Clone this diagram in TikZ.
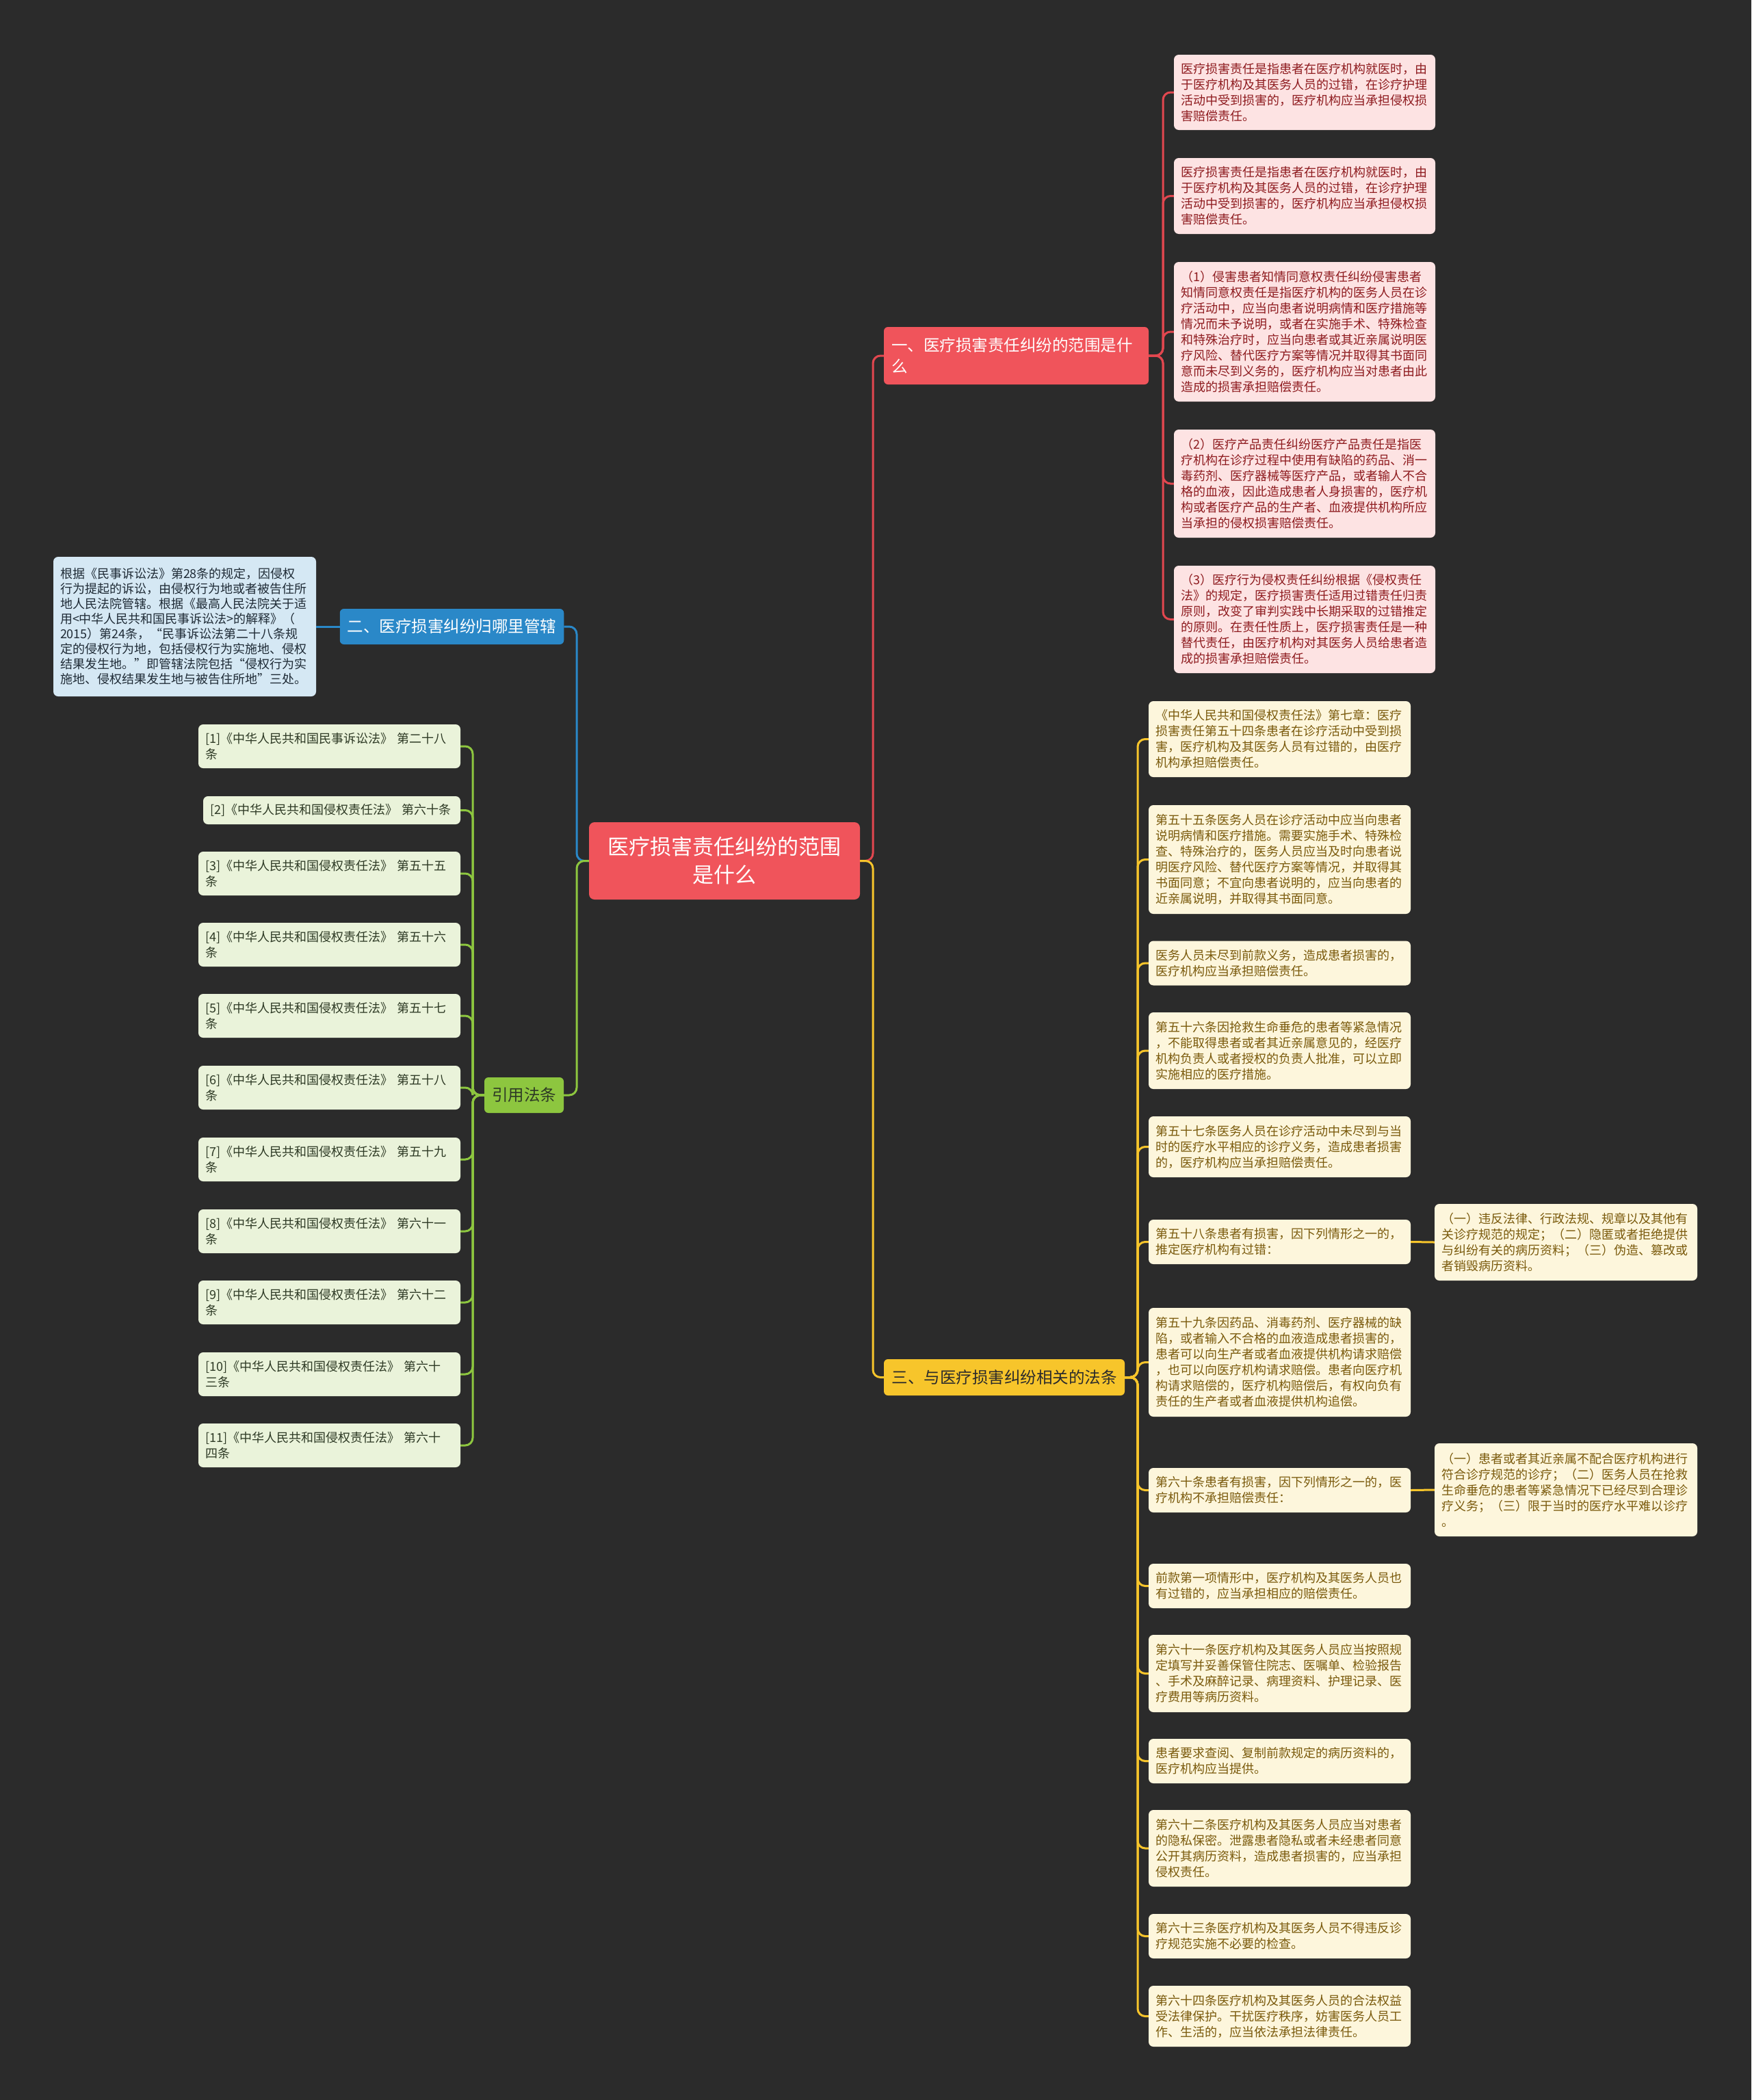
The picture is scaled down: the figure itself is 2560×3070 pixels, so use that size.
\documentclass[tikz,border=0pt]{standalone}
\usepackage{fontspec}
\newfontfamily\cjk{Noto Sans CJK SC}
\definecolor{bg}{HTML}{2B2B2B}
\definecolor{redm}{HTML}{F0545B}
\definecolor{redl}{HTML}{E2474F}
\definecolor{pinkf}{HTML}{FDE3E3}
\definecolor{pinkt}{HTML}{8E1B1F}
\definecolor{bluem}{HTML}{2A88C8}
\definecolor{bluef}{HTML}{D5E8F4}
\definecolor{bluet}{HTML}{1F2B36}
\definecolor{greenm}{HTML}{8DC63F}
\definecolor{greenf}{HTML}{EAF3DA}
\definecolor{greent}{HTML}{2E3A25}
\definecolor{yelm}{HTML}{F7C52B}
\definecolor{yelf}{HTML}{FDF6DC}
\definecolor{yelt}{HTML}{7A5A0C}
\tikzset{
  leafbox/.style={rounded corners=7pt, inner xsep=10pt, inner ysep=0pt, align=left,
    font=\cjk\fontsize{18pt}{23pt}\selectfont},
  pleaf/.style={leafbox, fill=pinkf, text=pinkt, text width=362pt},
  bleaf/.style={leafbox, fill=bluef, text=bluet, text width=364pt, font=\cjk\fontsize{18pt}{22pt}\selectfont},
  gleaf/.style={leafbox, fill=greenf, text=greent, text width=363pt},
  yleaf/.style={leafbox, fill=yelf, text=yelt, text width=363pt},
  mainbox/.style={rounded corners=6pt, inner xsep=11pt, inner ysep=0pt,
    font=\cjk\fontsize{23.5pt}{31pt}\selectfont},
  centerbox/.style={rounded corners=8pt, fill=redm, text=white, align=center,
    minimum width=396pt, minimum height=113pt, inner sep=0pt,
    font=\cjk\fontsize{31pt}{41pt}\selectfont},
  conn/.style={line width=3pt, rounded corners=11pt},
  rconn/.style={conn, draw=redl},
  bconn/.style={conn, draw=bluem},
  gconn/.style={conn, draw=greenm},
  yconn/.style={conn, draw=yelm},
}
\begin{document}
\begin{tikzpicture}[x=1pt,y=-1pt]
\fill[bg] (0,0) rectangle (2560,3070);
\useasboundingbox (0,0) rectangle (2560,3070);

% trunk coordinates
\coordinate (tR) at (1276,0);
\coordinate (tL) at (843,0);
\coordinate (tP) at (1700,0);
\coordinate (tY) at (1663,0);
\coordinate (tG) at (691,0);

% center
\node[centerbox] (c) at (1059,1258.5) {医疗损害责任纠纷的范围\\是什么};

% main branches
\node[mainbox, fill=redm, text=white, text width=365pt, align=left, minimum height=84pt] (b1) at (1485.5,520) {一、医疗损害责任纠纷的范围是什\\么};
\node[mainbox, fill=bluem, text=white, minimum width=327pt, minimum height=52pt] (b2) at (660.5,916) {二、医疗损害纠纷归哪里管辖};
\node[mainbox, fill=greenm, text=greent, minimum width=116pt, minimum height=52pt] (b3) at (766,1601) {引用法条};
\node[mainbox, fill=yelm, text=bg, minimum width=352pt, minimum height=53pt] (b4) at (1468,2013.5) {三、与医疗损害纠纷相关的法条};

% pink leaves
\node[pleaf, minimum height=110pt] (p1) at (1907,135) {医疗损害责任是指患者在医疗机构就医时，由\\于医疗机构及其医务人员的过错，在诊疗护理\\活动中受到损害的，医疗机构应当承担侵权损\\害赔偿责任。};
\node[pleaf, minimum height=111pt] (p2) at (1907,286.5) {医疗损害责任是指患者在医疗机构就医时，由\\于医疗机构及其医务人员的过错，在诊疗护理\\活动中受到损害的，医疗机构应当承担侵权损\\害赔偿责任。};
\node[pleaf, minimum height=204pt] (p3) at (1907,485) {（1）侵害患者知情同意权责任纠纷侵害患者\\知情同意权责任是指医疗机构的医务人员在诊\\疗活动中，应当向患者说明病情和医疗措施等\\情况而未予说明，或者在实施手术、特殊检查\\和特殊治疗时，应当向患者或其近亲属说明医\\疗风险、替代医疗方案等情况并取得其书面同\\意而未尽到义务的，医疗机构应当对患者由此\\造成的损害承担赔偿责任。};
\node[pleaf, minimum height=158pt] (p4) at (1907,707) {（2）医疗产品责任纠纷医疗产品责任是指医\\疗机构在诊疗过程中使用有缺陷的药品、消一\\毒药剂、医疗器械等医疗产品，或者输人不合\\格的血液，因此造成患者人身损害的，医疗机\\构或者医疗产品的生产者、血液提供机构所应\\当承担的侵权损害赔偿责任。};
\node[pleaf, minimum height=157pt] (p5) at (1907,905.5) {（3）医疗行为侵权责任纠纷根据《侵权责任\\法》的规定，医疗损害责任适用过错责任归责\\原则，改变了审判实践中长期采取的过错推定\\的原则。在责任性质上，医疗损害责任是一种\\替代责任，由医疗机构对其医务人员给患者造\\成的损害承担赔偿责任。};

% blue leaf
\node[bleaf, minimum height=204pt] (bl) at (270,916) {根据《民事诉讼法》第28条的规定，因侵权\\行为提起的诉讼，由侵权行为地或者被告住所\\地人民法院管辖。根据《最高人民法院关于适\\用<中华人民共和国民事诉讼法>的解释》（\\2015）第24条，“民事诉讼法第二十八条规\\定的侵权行为地，包括侵权行为实施地、侵权\\结果发生地。”即管辖法院包括“侵权行为实\\施地、侵权结果发生地与被告住所地”三处。};

% green leaves
\node[gleaf, minimum height=64pt] (g1) at (481.5,1091) {[1]《中华人民共和国民事诉讼法》~第二十八\\条};
\node[gleaf, text width=356pt, minimum height=41pt] (g2) at (485,1184.5) {[2]《中华人民共和国侵权责任法》~第六十条};
\node[gleaf, minimum height=64pt] (g3) at (481.5,1277) {[3]《中华人民共和国侵权责任法》~第五十五\\条};
\node[gleaf, minimum height=64pt] (g4) at (481.5,1381) {[4]《中华人民共和国侵权责任法》~第五十六\\条};
\node[gleaf, minimum height=64pt] (g5) at (481.5,1485) {[5]《中华人民共和国侵权责任法》~第五十七\\条};
\node[gleaf, minimum height=64pt] (g6) at (481.5,1590) {[6]《中华人民共和国侵权责任法》~第五十八\\条};
\node[gleaf, minimum height=64pt] (g7) at (481.5,1695) {[7]《中华人民共和国侵权责任法》~第五十九\\条};
\node[gleaf, minimum height=64pt] (g8) at (481.5,1800) {[8]《中华人民共和国侵权责任法》~第六十一\\条};
\node[gleaf, minimum height=64pt] (g9) at (481.5,1904) {[9]《中华人民共和国侵权责任法》~第六十二\\条};
\node[gleaf, minimum height=64pt] (g10) at (481.5,2009) {[10]《中华人民共和国侵权责任法》~第六十\\三条};
\node[gleaf, minimum height=64pt] (g11) at (481.5,2113) {[11]《中华人民共和国侵权责任法》~第六十\\四条};

% yellow leaves
\node[yleaf, minimum height=111pt] (y1) at (1870.5,1080.5) {《中华人民共和国侵权责任法》第七章：医疗\\损害责任第五十四条患者在诊疗活动中受到损\\害，医疗机构及其医务人员有过错的，由医疗\\机构承担赔偿责任。};
\node[yleaf, minimum height=159pt] (y2) at (1870.5,1256.5) {第五十五条医务人员在诊疗活动中应当向患者\\说明病情和医疗措施。需要实施手术、特殊检\\查、特殊治疗的，医务人员应当及时向患者说\\明医疗风险、替代医疗方案等情况，并取得其\\书面同意；不宜向患者说明的，应当向患者的\\近亲属说明，并取得其书面同意。};
\node[yleaf, minimum height=65pt] (y3) at (1870.5,1408) {医务人员未尽到前款义务，造成患者损害的，\\医疗机构应当承担赔偿责任。};
\node[yleaf, minimum height=112pt] (y4) at (1870.5,1536) {第五十六条因抢救生命垂危的患者等紧急情况\\，不能取得患者或者其近亲属意见的，经医疗\\机构负责人或者授权的负责人批准，可以立即\\实施相应的医疗措施。};
\node[yleaf, minimum height=89pt] (y5) at (1870.5,1676.5) {第五十七条医务人员在诊疗活动中未尽到与当\\时的医疗水平相应的诊疗义务，造成患者损害\\的，医疗机构应当承担赔偿责任。};
\node[yleaf, minimum height=65pt] (y6) at (1870.5,1815.5) {第五十八条患者有损害，因下列情形之一的，\\推定医疗机构有过错：};
\node[yleaf, minimum height=159pt] (y7) at (1870.5,1991.5) {第五十九条因药品、消毒药剂、医疗器械的缺\\陷，或者输入不合格的血液造成患者损害的，\\患者可以向生产者或者血液提供机构请求赔偿\\，也可以向医疗机构请求赔偿。患者向医疗机\\构请求赔偿的，医疗机构赔偿后，有权向负有\\责任的生产者或者血液提供机构追偿。};
\node[yleaf, minimum height=65pt] (y8) at (1870.5,2178.5) {第六十条患者有损害，因下列情形之一的，医\\疗机构不承担赔偿责任：};
\node[yleaf, minimum height=65pt] (y9) at (1870.5,2318.5) {前款第一项情形中，医疗机构及其医务人员也\\有过错的，应当承担相应的赔偿责任。};
\node[yleaf, minimum height=113pt] (y10) at (1870.5,2446.5) {第六十一条医疗机构及其医务人员应当按照规\\定填写并妥善保管住院志、医嘱单、检验报告\\、手术及麻醉记录、病理资料、护理记录、医\\疗费用等病历资料。};
\node[yleaf, minimum height=65pt] (y11) at (1870.5,2574.5) {患者要求查阅、复制前款规定的病历资料的，\\医疗机构应当提供。};
\node[yleaf, minimum height=112pt] (y12) at (1870.5,2702) {第六十二条医疗机构及其医务人员应当对患者\\的隐私保密。泄露患者隐私或者未经患者同意\\公开其病历资料，造成患者损害的，应当承担\\侵权责任。};
\node[yleaf, minimum height=65pt] (y13) at (1870.5,2830.5) {第六十三条医疗机构及其医务人员不得违反诊\\疗规范实施不必要的检查。};
\node[yleaf, minimum height=89pt] (y14) at (1870.5,2947.5) {第六十四条医疗机构及其医务人员的合法权益\\受法律保护。干扰医疗秩序，妨害医务人员工\\作、生活的，应当依法承担法律责任。};

% right-most leaves
\node[yleaf, text width=364pt, minimum height=112pt] (r1) at (2289,1816) {（一）违反法律、行政法规、规章以及其他有\\关诊疗规范的规定；（二）隐匿或者拒绝提供\\与纠纷有关的病历资料；（三）伪造、篡改或\\者销毁病历资料。};
\node[yleaf, text width=364pt, minimum height=136pt] (r2) at (2289,2178) {（一）患者或者其近亲属不配合医疗机构进行\\符合诊疗规范的诊疗；（二）医务人员在抢救\\生命垂危的患者等紧急情况下已经尽到合理诊\\疗义务；（三）限于当时的医疗水平难以诊疗\\。};

% connectors: center to branches
\draw[rconn] (c.east) -- (c.east -| tR) |- (b1.west);
\draw[yconn] (c.east) -- (c.east -| tR) |- (b4.west);
\draw[bconn] (c.west) -- (c.west -| tL) |- (b2.east);
\draw[gconn] (c.west) -- (c.west -| tL) |- (b3.east);

% branch 1 leaves
\foreach \n in {p1,p2,p3,p4,p5}
  \draw[rconn] (b1.east) -- (b1.east -| tP) |- (\n.west);

% branch 2 leaf
\draw[bconn] (b2.west) -- (bl.east);

% branch 3 leaves
\foreach \n in {g1,g2,g3,g4,g5,g6,g7,g8,g9,g10,g11}
  \draw[gconn] (b3.west) -- (b3.west -| tG) |- (\n.east);

% branch 4 leaves
\foreach \n in {y1,y2,y3,y4,y5,y6,y7,y8,y9,y10,y11,y12,y13,y14}
  \draw[yconn] (b4.east) -- (b4.east -| tY) |- (\n.west);

\draw[yconn] (y6.east) -- (r1.west);
\draw[yconn] (y8.east) -- (r2.west);
\end{tikzpicture}
\end{document}
